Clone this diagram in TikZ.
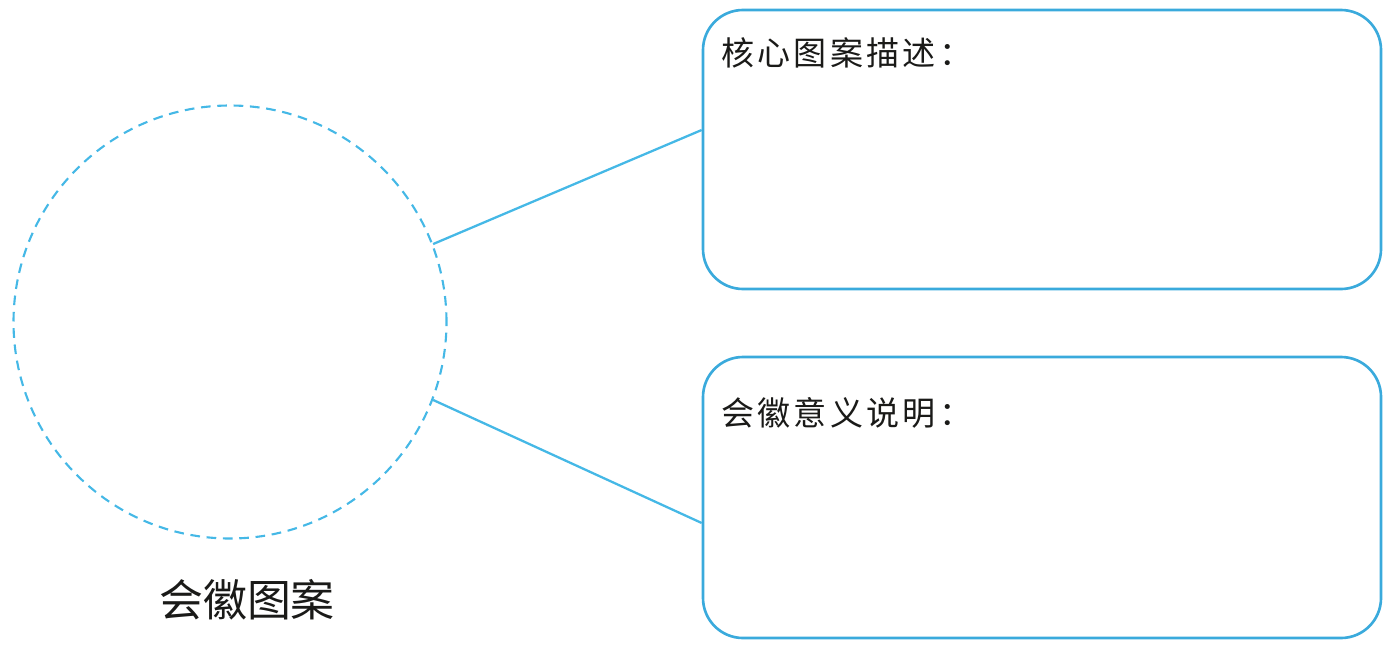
\documentclass[tikz,border=0pt]{standalone}
\usepackage{fontspec}
\usepackage{xcolor}
\usepackage{tikz}
\usetikzlibrary{calc,positioning}
\newfontfamily\cjk{Noto Sans CJK SC}
\newfontfamily\cjkwide{Noto Sans CJK SC}[LetterSpace=10]
\definecolor{BadgeSky}{HTML}{45B8E6}
\definecolor{BadgeFrame}{HTML}{3AAADC}
\definecolor{BadgeInk}{HTML}{1A1A18}
\tikzset{
  infobox/.style={draw=BadgeFrame,line width=1.5pt,rounded corners=0.8cm,minimum width=13.56cm},
  infotext/.style={anchor=west,inner sep=0pt,text=BadgeInk,font=\cjkwide\fontsize{18.8pt}{22pt}\selectfont},
  link/.style={draw=BadgeSky,line width=1.3pt}
}
\begin{document}
\begin{tikzpicture}
    \useasboundingbox (0,0) rectangle (27.8,-13.1);
    \node[circle,draw=BadgeSky,line width=1.2pt,dash pattern=on 5.5pt off 3.8pt,minimum size=8.66cm] (emblem) at (4.6,-6.44) {};
    \node[infobox,minimum height=5.58cm] (core) at (20.84,-2.99) {};
    \node[infobox,minimum height=5.62cm] (meaning) at (20.84,-9.95) {};
    \node[infotext] (corelabel) at ($(core.north west)+(0.38,-0.88)$) {核心图案描述：};
    \node[infotext] (meaninglabel) at ($(meaning.north west)+(0.38,-1.14)$) {会徽意义说明：};
    \node[below=0.78cm of emblem,xshift=0.34cm,inner sep=0pt,text=BadgeInk,font=\cjk\fontsize{25pt}{29pt}\selectfont] (emblemlabel) {会徽图案};
    \draw[link] (emblem.21) -- ($(core.west)+(0,0.39)$);
    \draw[link] (emblem.-21) -- ($(meaning.west)+(0,-0.51)$);
  \end{tikzpicture}
\end{document}
